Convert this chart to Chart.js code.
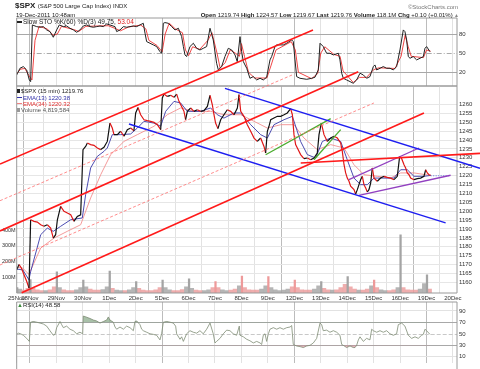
<!DOCTYPE html>
<html lang="en">
<head>
<meta charset="UTF-8">
<title>$SPX 15 min - StockCharts</title>
<script src="https://cdn.jsdelivr.net/npm/chart.js"></script>
<style>
  html, body { margin: 0; padding: 0; background: #fff; overflow: hidden; }
  #wrap { position: relative; width: 480px; height: 369px; overflow: hidden; font-family: 'Liberation Sans', Arial, sans-serif; color: #222; }
  #wrap canvas { position: absolute; left: 0; top: 0; }
  .t { position: absolute; white-space: nowrap; font-size: 6px; line-height: 6px; }
  .ic { display: inline-block; width: 5px; height: 1px; vertical-align: middle; margin-right: 1px; }
</style>
</head>
<body>
<div id="wrap">
  <canvas id="sto" width="480" height="369"></canvas>
  <canvas id="main" width="480" height="369"></canvas>
  <canvas id="rsi" width="480" height="369"></canvas>
  <canvas id="lines" width="480" height="369"></canvas>

  <div class="t" style="left:15px;top:2px;font-size:8px;line-height:8px"><b>$SPX</b> <span style="font-size:6px">(S&amp;P 500 Large Cap Index) INDX</span></div>
  <div class="t" style="right:22px;top:3.5px;color:#777">&copy;StockCharts.com</div>
  <div class="t" style="left:16px;top:11.5px">19-Dec-2011 10:48am</div>
  <div class="t" style="right:21px;top:11.5px"><b>Open</b> 1219.74 <b>High</b> 1224.57 <b>Low</b> 1219.67 <b>Last</b> 1219.76 <b>Volume</b> 118.1M <b>Chg</b> +0.10 (+0.01%)<span style="color:#888;font-size:5px"> &#9650;</span></div>

  <div class="t" style="left:17px;top:19px;font-size:6.5px"><span class="ic" style="background:#222;height:2px"></span>Slow STO %K(60) %D(3) 49.75, <span style="color:#e02020">53.04</span></div>

  <div class="t" style="left:17px;top:88px"><span class="ic" style="background:#222;width:3px;height:4px"></span>$SPX (15 min) 1219.76</div>
  <div class="t" style="left:17px;top:94.5px;color:#3333aa"><span class="ic" style="background:#3333aa"></span>EMA(13) 1220.38</div>
  <div class="t" style="left:17px;top:100.5px;color:#e03030"><span class="ic" style="background:#f08080"></span>EMA(34) 1220.32</div>
  <div class="t" style="left:17px;top:106.5px;color:#555"><span class="ic" style="background:#999;width:3px;height:4px"></span>Volume 4,819,584</div>

  <div class="t" style="left:17px;top:302px"><span style="color:#3a8a3a;font-size:6px">&#9650;</span>RSI(14) 48.58</div>
</div>
<script>
// trading days, 15 min bars counted from the 25Nov open
const dayStarts = [0, 13, 39, 65, 91, 117, 143, 169, 195, 221, 247, 273, 299, 325, 351, 377, 403, 429];
const dayLabels = ['25Nov', '28Nov', '29Nov', '30Nov', '1Dec', '2Dec', '5Dec', '6Dec', '7Dec', '8Dec', '9Dec', '12Dec', '13Dec', '14Dec', '15Dec', '16Dec', '19Dec', '20Dec'];
const mondays = ['28Nov', '5Dec', '12Dec', '19Dec'];
const lastBar = 408;

const priceT = [0, 2.3, 4.6, 7.2, 9.8, 12.1, 13.7, 17, 20.3, 23.6, 26.8, 30.1, 33.4, 36, 38.3, 40, 43.2, 46.5, 49.8, 53.1, 56.3, 59.6, 62.9,
  65.2, 67.8, 69.5, 72.7, 76, 79.3, 82.6, 85.8, 89.1, 91.7, 94, 95.7, 99, 102.2, 105.5, 108.8, 112.1, 115.3,
  117, 119.3, 121.9, 125.2, 128.5, 131.7, 135, 138.3, 141.6, 143.2, 144.8, 148.1, 151.4, 154.7, 157.3, 159.6, 162.9, 164.5, 166.1,
  167.8, 171.1, 174.3, 177.6, 180.9, 184.2, 187.5, 190.1, 192.4, 194, 195.6, 197.9, 200.6, 203.8, 207.1, 210.4, 213.7,
  217, 218.6, 220.3, 223.5, 226.8, 230.1, 233.4, 236.6, 239.9, 243.2, 244.8, 246.5, 248.1, 249.8, 253, 256.3, 259.6, 262.9, 266.1, 269.4, 271.1,
  272.7, 274.3, 276, 279.2, 282.5, 285.8, 289.1, 292.4, 295.6, 297.3, 299.6, 302.2, 305.5, 308.8, 312, 315.3, 318.6, 320.2, 321.9, 323.5,
  325.1, 326.8, 328.4, 331.7, 333.3, 335, 336.6, 338.2, 339.9, 341.5, 343.2, 344.8, 346.4, 348.1, 349.7, 351.4, 354.6, 357.9, 361.2, 364.5,
  367.7, 371, 374.3, 376.6, 378.6, 380.9, 382.5, 384.1, 385.8, 387.4, 390.7, 394, 397.2, 400.5, 402.2, 403.8, 405.5, 407.1];
const priceClose = [1167.1, 1170.0, 1168.1, 1164.3, 1160.6, 1156.8, 1195.2, 1194.3, 1193.9, 1192.4, 1191.5, 1192.4, 1190.5, 1184.9, 1186.8, 1195.2, 1202.7, 1199.9, 1199.0, 1198.0, 1194.3, 1197.1, 1198.0,
  1234.6, 1236.4, 1238.3, 1237.4, 1237.0, 1235.5, 1234.6, 1235.9, 1239.2, 1249.5, 1246.7, 1243.0, 1243.0, 1244.9, 1242.1, 1245.8, 1246.7, 1245.2,
  1255.2, 1258.3, 1254.2, 1251.4, 1250.9, 1250.5, 1249.9, 1248.6, 1245.8, 1263.6, 1265.8, 1264.5, 1265.1, 1264.0, 1265.8, 1261.7, 1258.0, 1256.1, 1251.4,
  1256.1, 1258.0, 1256.1, 1257.0, 1256.1, 1256.5, 1258.9, 1265.1, 1259.8, 1254.2, 1249.5, 1246.4, 1251.4, 1254.2, 1257.0, 1256.1, 1254.2,
  1258.0, 1265.5, 1256.1, 1253.3, 1248.6, 1244.9, 1241.1, 1239.2, 1241.1, 1236.4, 1232.7, 1244.9, 1247.7, 1251.4, 1252.4, 1253.3, 1253.3, 1254.2, 1255.2, 1257.6, 1254.2,
  1243.0, 1237.4, 1235.5, 1231.8, 1229.5, 1229.9, 1228.9, 1229.9, 1232.7, 1243.0, 1249.5, 1243.0, 1239.2, 1241.1, 1242.1, 1241.1, 1238.3, 1233.6, 1226.1, 1221.5,
  1218.6, 1216.8, 1214.0, 1212.1, 1209.7, 1212.1, 1214.9, 1217.7, 1219.6, 1214.9, 1213.0, 1210.8, 1212.1, 1215.8, 1224.3, 1218.6, 1216.8, 1218.6, 1219.6, 1219.0,
  1218.6, 1217.7, 1219.6, 1230.8, 1229.5, 1226.1, 1224.3, 1221.5, 1220.5, 1218.6, 1217.7, 1218.3, 1218.6, 1219.6, 1223.3, 1221.5, 1220.5, 1220.1];

const ema13T = [0, 6, 12, 13.7, 23.6, 30.1, 36, 43.2, 53.1, 64.5, 67.8, 72.7, 79.3, 85.8, 89.1, 94, 102.2, 112.1, 118.6, 125.2,
  135, 141.6, 146.5, 154.7, 161.2, 167.8, 180.9, 190.7, 197.3, 203.8, 213.7, 220.3, 230.1, 239.9, 246.5,
  253, 262.9, 271.1, 279.2, 285.8, 294, 300.6, 308.8, 318.6, 325.1, 331.7, 338.2, 344.8, 351.4, 361.2, 371, 377.6, 384.1, 390.7, 400.5, 407.1];
const ema13 = [1167.5, 1167.0, 1161.5, 1166.0, 1186.8, 1190.5, 1188.7, 1191.5, 1195.2, 1196.2, 1209.3, 1224.3, 1230.8, 1233.6, 1235.5, 1243.0, 1243.0, 1243.4, 1246.7, 1250.5,
  1249.5, 1247.7, 1256.1, 1261.7, 1260.8, 1256.1, 1256.1, 1258.0, 1254.2, 1252.3, 1255.2, 1255.2, 1248.6, 1243.0, 1241.1,
  1248.6, 1251.4, 1253.3, 1239.2, 1231.8, 1229.9, 1239.2, 1241.1, 1239.2, 1228.9, 1218.6, 1214.9, 1214.9, 1218.6, 1218.6, 1218.6, 1223.3, 1223.3, 1219.6, 1219.6, 1220.1];

const ema34T = [0, 6, 12, 23.6, 36.7, 49.8, 62.9, 72.7, 82.6, 92.4, 105.5, 118.6, 135, 148.1, 161.2, 174.3, 190.7, 203.8, 213.7, 220.3,
  233.4, 246.5, 259.6, 272.7, 282.5, 295.6, 308.8, 321.9, 331.7, 341.5, 354.6, 367.7, 377.6, 390.7, 407.1];
const ema34 = [1168.5, 1168.0, 1164.5, 1179.3, 1184.9, 1188.7, 1192.4, 1207.4, 1220.5, 1231.8, 1239.2, 1243.0, 1247.7, 1254.2, 1258.0, 1256.1, 1256.1, 1254.2, 1254.2, 1254.2,
  1250.5, 1246.7, 1248.6, 1248.6, 1241.1, 1234.6, 1237.4, 1235.5, 1226.1, 1220.5, 1219.6, 1218.6, 1221.5, 1221.5, 1220.1];

// volume in millions: opening bar of each day, then the rest of the session
const volOpen = [35, 85, 135, 83, 140, 72, 83, 90, 72, 108, 104, 83, 72, 104, 83, 370, 115];
const openUp = [true, true, true, true, true, true, true, true, false, false, false, false, true, true, false, true, true];
const volBody = [[25, 18, 30], [30, 20, 15, 15, 20, 40], [35, 20, 15, 15, 20, 35], [40, 25, 18, 18, 22, 40], [30, 18, 15, 15, 20, 35],
  [30, 18, 15, 15, 20, 35], [35, 20, 15, 15, 22, 40], [30, 18, 15, 15, 20, 35], [35, 20, 15, 18, 25, 45], [35, 20, 18, 18, 25, 45],
  [35, 20, 15, 18, 25, 40], [35, 20, 18, 18, 25, 45], [30, 20, 18, 20, 35, 55], [40, 25, 18, 18, 25, 45], [35, 20, 15, 15, 20, 35],
  [35, 20, 18, 18, 25, 60], [25]];

const stoT = [0, 3.2, 6.5, 9.8, 12.4, 13.7, 15.4, 19.6, 22.9, 26.2, 29.5, 32.7, 36, 39.3, 41.9, 45.9, 49.1, 52.4, 55.7, 59,
  62.2, 65.5, 68.8, 72.1, 75.4, 78.6, 81.9, 85.2, 88.5, 96.7, 98.3, 101.6, 104.9, 108.1, 111.4, 114.7, 118, 121.2, 124.5, 126.2,
  127.8, 131.1, 134.4, 137.6, 140.9, 142.5, 144.2, 145.8, 149.1, 152.4, 155.7, 159, 162.2, 163.9, 165.5, 167.1, 170.4, 173.7, 177, 180.2,
  183.5, 186.8, 190.1, 193.3, 196.6, 198.3, 201.5, 204.8, 208.1, 211.4, 214.7, 216.9, 219.6, 221.2, 222.9, 226.2, 229.4, 232.7, 236, 239.3,
  242.5, 245.8, 249.1, 250.7, 254, 255.7, 262.2, 265.5, 270.4, 272, 273.7, 275.3, 278.6, 285.2, 290.1, 293.3, 296.6, 298.3, 301.5, 304.8,
  308.1, 311.4, 316.3, 317.9, 319.6, 321.2, 324.5, 327.8, 331, 334.3, 337.6, 340.9, 344.1, 347.4, 350.7, 352.3, 354, 357.3, 360.5, 363.8,
  367.1, 370.4, 373.6, 376.9, 380.2, 381.8, 383.5, 385.1, 386.8, 390, 393.3, 396.6, 399.9, 401.5, 403.1, 406.4];
const stoK = [15.8, 26.3, 28.9, 23.7, 8.0, 5.4, 94.2, 91.6, 90.6, 91.6, 86.4, 83.8, 74.9, 86.4, 94.2, 91.6, 92.6, 89.0, 86.4, 82.7,
  86.4, 92.6, 94.2, 91.6, 90.6, 91.6, 92.6, 91.6, 95.8, 91.6, 83.8, 86.4, 91.6, 90.6, 91.6, 92.6, 91.6, 94.2, 96.8, 81.2,
  68.1, 65.5, 62.9, 60.3, 52.4, 49.8, 96.8, 97.9, 96.8, 91.6, 86.4, 89.0, 75.9, 60.3, 47.2, 44.6, 60.3, 65.5, 57.6, 55.0,
  57.6, 60.3, 89.0, 70.7, 34.1, 23.7, 28.9, 44.6, 57.6, 55.0, 47.2, 36.7, 75.9, 52.4, 36.7, 26.3, 10.6, 13.2, 8.0, 10.6,
  8.0, 12.2, 39.4, 44.6, 60.3, 62.9, 62.9, 65.5, 70.7, 68.1, 39.4, 13.2, 10.6, 9.0, 10.6, 12.2, 23.7, 65.5, 60.3, 49.8,
  49.8, 47.2, 49.8, 39.4, 18.5, 10.6, 8.0, 5.4, 2.8, 8.0, 18.5, 15.8, 10.6, 13.2, 28.9, 31.5, 23.7, 26.3, 28.9, 26.3,
  26.3, 23.7, 28.9, 55.0, 86.4, 83.8, 70.7, 44.6, 42.0, 44.6, 39.4, 42.0, 44.6, 57.6, 60.3, 52.4];
const stoDT = [0, 4, 8, 12, 15, 18, 22, 30, 36, 40, 44, 56, 61, 68, 90, 98, 102, 110, 122, 127, 130, 138, 143, 146, 150, 156, 163, 166, 169, 173,
  180, 188, 192, 197, 200, 205, 210, 215, 219, 221, 224, 228, 234, 246, 250, 255, 270, 274, 277, 290, 296, 299, 303, 312, 318, 321, 331, 337, 344, 351,
  356, 372, 378, 382, 385, 388, 400, 403, 407];
const stoD = [18, 25, 26, 15, 8, 70, 92, 88, 78, 80, 92, 87, 84, 92, 93, 88, 85, 91, 94, 88, 70, 62, 52, 80, 97, 88, 82, 55, 46, 60,
  56, 70, 82, 50, 27, 35, 55, 50, 45, 65, 45, 20, 11, 11, 30, 55, 68, 55, 20, 10, 18, 50, 60, 48, 45, 22, 4, 12, 12, 24,
  27, 26, 45, 78, 60, 45, 43, 55, 53];

const rsiT = [0, 1.6, 3.9, 6.5, 9.8, 12.4, 13.7, 16.4, 19.6, 22.9, 26.2, 29.5, 32.7, 36, 37.7, 39.3, 42.6, 44.2, 45.9, 49.1,
  52.4, 55.7, 59, 62.2, 64.9, 65.5, 68.1, 72.1, 75.4, 78.6, 81.9, 85.2, 88.5, 90.1, 91.7, 95, 96.7, 98.3, 101.6, 104.9,
  108.1, 111.4, 114.7, 116.3, 118, 121.2, 122.9, 124.5, 127.8, 131.1, 134.4, 137.6, 140.9, 142.5, 144.2, 147.5, 150.7, 154, 156.3, 157.3,
  160.6, 162.2, 163.9, 167.1, 170.4, 173.7, 177, 180.2, 183.5, 186.8, 190.1, 193.3, 195, 196.6, 199.9, 203.2, 206.5, 209.7, 213, 216.3,
  218.9, 219.6, 222.9, 226.2, 229.4, 232.7, 236, 239.3, 240.9, 242.5, 244.2, 245.8, 247.5, 249.1, 252.4, 255.7, 258.9, 262.2, 265.5, 268.8,
  270.4, 272, 275.3, 278.6, 281.9, 285.2, 288.4, 291.7, 295, 298.3, 299.9, 301.5, 304.8, 308.1, 311.4, 314.7, 317.9, 319.6, 321.2, 324.5,
  327.8, 331, 332.7, 334.3, 336, 337.6, 340.9, 344.1, 347.4, 349.1, 350.7, 354, 357.3, 360.5, 363.8, 367.1, 370.4, 373.6, 375.3, 378.6,
  381.8, 385.1, 388.4, 391.7, 394.9, 398.2, 399.9, 401.5, 403.1, 406.4];
const rsi = [49.2, 51.3, 50.2, 47.6, 42.2, 36.9, 70.5, 71.6, 70.5, 68.9, 67.3, 63.6, 55.6, 47.6, 49.2, 60.9, 71.6, 66.2, 60.9, 63.6,
  58.2, 55.6, 50.2, 52.9, 50.2, 81.2, 79.6, 76.9, 74.2, 72.6, 68.9, 71.6, 74.2, 79.6, 74.2, 70.5, 62.0, 58.2, 62.0, 58.2,
  63.6, 60.9, 55.6, 71.6, 72.6, 66.2, 58.2, 55.6, 52.9, 50.2, 49.2, 47.6, 39.6, 50.2, 70.5, 71.6, 70.5, 68.9, 63.6, 50.2,
  40.6, 44.9, 36.9, 50.2, 55.6, 52.9, 51.3, 55.6, 50.2, 58.2, 68.9, 50.2, 34.2, 36.9, 42.2, 50.2, 56.6, 55.6, 50.2, 47.6,
  63.6, 47.6, 44.9, 40.6, 38.0, 34.2, 36.9, 34.2, 31.6, 47.6, 50.2, 36.9, 50.2, 58.2, 60.9, 58.2, 60.9, 58.2, 60.9, 62.0,
  64.6, 31.6, 28.9, 27.8, 26.2, 28.9, 30.0, 34.2, 42.2, 68.9, 66.2, 55.6, 56.6, 52.9, 55.6, 52.9, 47.6, 31.6, 30.0, 26.2,
  28.9, 26.2, 26.2, 30.0, 39.6, 44.9, 36.9, 42.2, 39.6, 58.2, 55.6, 52.9, 55.6, 52.9, 55.6, 50.2, 47.6, 50.2, 66.2, 68.9,
  63.6, 47.6, 42.2, 44.9, 42.2, 47.6, 49.2, 58.2, 55.6, 49.2];

// drawn trend lines: [bar from, price from, bar to, price to]
const redSolid = [[-16.4, 1226.5, 291.4, 1301.8], [-16.4, 1188.9, 335.9, 1278.4], [4.9, 1154.2, 400.5, 1255.2], [279.3, 1227.1, 455.6, 1232.5]];
const redDashed = [[-16.4, 1205.9, 270.7, 1276.5], [-16.4, 1169.8, 351.3, 1260.8]];
const blueLines = [[204.8, 1269.0, 455.6, 1224.1], [110.4, 1249.0, 421.8, 1193.4]];
const greenLines = [[244.8, 1231.7, 308.8, 1252.0], [292.3, 1228.9, 318.6, 1245.8]];
const purpleLines = [[326.7, 1217.7, 395.6, 1235.5], [336.6, 1208.9, 426.7, 1220.2]];
const projection = [[407.1, 1219.9, 425.1, 1219.9]];

const priceTicks = [];
for (let p = 1160; p <= 1260; p += 5) priceTicks.push(p);

Chart.defaults.font.family = "'Liberation Sans', Arial, sans-serif";
Chart.defaults.font.size = 6;
Chart.defaults.color = '#333';
Chart.defaults.animation = false;
Chart.defaults.events = [];
Chart.defaults.plugins.legend.display = false;
Chart.defaults.plugins.tooltip.enabled = false;

const pts = (xs, ys) => xs.map((x, i) => ({ x, y: ys[i] }));

const frame = {
  id: 'frame',
  afterDraw(chart, args, opts) {
    const a = chart.chartArea, c = chart.ctx;
    c.save();
    c.strokeStyle = '#9a9a9a';
    c.lineWidth = 1;
    c.beginPath();
    c.moveTo(a.left, opts.noBottom ? chart.height : a.bottom);
    c.lineTo(a.left, a.top);
    c.lineTo(a.right, a.top);
    c.lineTo(a.right, opts.noBottom ? chart.height : a.bottom);
    if (!opts.noBottom) c.lineTo(a.left, a.bottom);
    c.stroke();
    c.restore();
  }
};
const refLines = {
  id: 'refLines',
  beforeDatasetsDraw(chart, args, opts) {
    const a = chart.chartArea, c = chart.ctx, y = chart.scales.y;
    (opts.lines || []).forEach(l => {
      const py = Math.round(y.getPixelForValue(l.v)) + 0.5;
      c.save();
      c.strokeStyle = l.color;
      c.lineWidth = 1;
      c.setLineDash(l.dash);
      c.beginPath();
      c.moveTo(a.left, py);
      c.lineTo(a.right, py);
      c.stroke();
      c.restore();
    });
  }
};

function timeAxis(labels) {
  return {
    type: 'linear', min: 0, max: 433, offset: false,
    afterBuildTicks: s => { s.ticks = dayStarts.map(v => ({ value: v })); },
    afterFit: s => { s.height = labels ? 10 : 0; },
    border: { display: false },
    grid: {
      drawTicks: false,
      color: c => (c.tick && mondays.includes(dayLabels[dayStarts.indexOf(c.tick.value)])) ? '#bcbcbc' : '#e2e2e2'
    },
    ticks: { display: labels, autoSkip: false, maxRotation: 0, padding: 2, callback: v => dayLabels[dayStarts.indexOf(v)] }
  };
}
function valueAxis(min, max, ticks, gridColor) {
  return {
    position: 'right', min, max,
    afterBuildTicks: s => { s.ticks = ticks.map(v => ({ value: v })); },
    afterFit: s => { s.width = 23; },
    border: { display: false },
    grid: { drawTicks: false, color: c => gridColor(c.tick ? c.tick.value : 0) },
    ticks: { padding: 2, autoSkip: false, callback: v => String(v) }
  };
}

// slow stochastic panel
new Chart(document.getElementById('sto'), {
  type: 'line',
  data: {
    datasets: [
      { data: pts(stoT, stoK), borderColor: '#222', borderWidth: 1, pointRadius: 0, order: 1 },
      { data: pts(stoDT, stoD), borderColor: '#ee3030', borderWidth: 0.9, pointRadius: 0, order: 2 }
    ]
  },
  options: {
    responsive: false, devicePixelRatio: 1,
    layout: { padding: { top: 18, left: 16.7, right: 0, bottom: 283 } },
    scales: {
      x: timeAxis(false),
      y: valueAxis(-1.5, 105.1, [20, 50, 80], v => v === 50 ? 'rgba(0,0,0,0)' : '#a8a8a8')
    },
    plugins: { refLines: { lines: [{ v: 50, color: '#aaa', dash: [5, 2, 1, 2] }] } }
  },
  plugins: [frame, refLines]
});

// volume bars built from the daily arrays
const priceAt = t => {
  let v = priceClose[0];
  priceT.forEach((x, i) => { if (x <= t) v = priceClose[i]; });
  return v;
};
const spikeData = volOpen.map((v, d) => ({ x: dayStarts[d] + 0.5, y: v }));
const bodyData = [];
volBody.forEach((vals, d) => {
  const s = dayStarts[d] + 1, e = Math.min(dayStarts[d + 1], lastBar);
  const w = (e - s) / vals.length;
  vals.forEach((v, k) => bodyData.push({ x: s + (k + 0.5) * w, y: v, up: priceAt(s + (k + 1) * w) >= priceAt(s + k * w) }));
});

// price panel
new Chart(document.getElementById('main'), {
  type: 'line',
  data: {
    datasets: [
      { type: 'bar', yAxisID: 'vol', data: bodyData, grouped: false, barThickness: 4,
        backgroundColor: bodyData.map(b => b.up ? 'rgba(168,168,168,0.85)' : 'rgba(236,160,160,0.85)'), order: 10 },
      { type: 'bar', yAxisID: 'vol', data: spikeData, grouped: false, barThickness: 1.6,
        backgroundColor: openUp.map(u => u ? '#a4a4a4' : '#ee9a9a'), order: 9 },
      { data: pts(ema34T, ema34), yAxisID: 'y', borderColor: '#f39090', borderWidth: 0.9, pointRadius: 0, order: 4 },
      { data: pts(ema13T, ema13), yAxisID: 'y', borderColor: '#3838a8', borderWidth: 0.9, pointRadius: 0, order: 3 },
      { data: pts(priceT, priceClose), yAxisID: 'y', borderWidth: 1.2, pointRadius: 0, order: 1,
        segment: { borderColor: c => c.p1.parsed.y < c.p0.parsed.y ? '#e01818' : '#111' } }
    ]
  },
  options: {
    responsive: false, devicePixelRatio: 1,
    layout: { padding: { top: 86, left: 0.7, right: 0, bottom: 66 } },
    scales: {
      x: timeAxis(true),
      y: valueAxis(1154.04, 1270.34, priceTicks, () => '#e6e6e6'),
      vol: {
        position: 'left', min: 0, max: 1318,
        afterBuildTicks: s => { s.ticks = [100, 200, 300, 400].map(v => ({ value: v })); },
        afterFit: s => { s.width = 16; },
        border: { display: false },
        grid: { drawOnChartArea: false, drawTicks: false },
        ticks: { padding: 1, font: { size: 5.5 }, callback: v => v + 'M' }
      }
    }
  },
  plugins: [frame]
});

// RSI panel
new Chart(document.getElementById('rsi'), {
  type: 'line',
  data: {
    datasets: [
      { data: pts(rsiT, rsi), borderColor: '#7d8c74', borderWidth: 0.8, pointRadius: 0,
        fill: { target: { value: 70 }, above: 'rgba(110,150,110,0.6)', below: 'rgba(0,0,0,0)' } },
      { data: pts(rsiT, rsi), borderWidth: 0, pointRadius: 0,
        fill: { target: { value: 30 }, above: 'rgba(0,0,0,0)', below: 'rgba(215,140,150,0.65)' } }
    ]
  },
  options: {
    responsive: false, devicePixelRatio: 1,
    layout: { padding: { top: 302, left: 16.7, right: 0, bottom: 0 } },
    scales: {
      x: timeAxis(false),
      y: valueAxis(-1.5, 105.7, [10, 30, 50, 70, 90], v => v === 50 ? 'rgba(0,0,0,0)' : (v === 30 || v === 70) ? '#a8a8a8' : '#e2e2e2')
    },
    plugins: { frame: { noBottom: true }, refLines: { lines: [{ v: 50, color: '#c8c8c8', dash: [4, 2] }] } }
  },
  plugins: [frame, refLines]
});

// annotation lines, on a scale that spans the whole picture so they can cross panels
const lineSet = (list, color, width, dash) => list.map(l => ({
  data: [{ x: l[0], y: l[1] }, { x: l[2], y: l[3] }],
  borderColor: color, borderWidth: width, borderDash: dash, pointRadius: 0
}));
new Chart(document.getElementById('lines'), {
  type: 'line',
  data: {
    datasets: [].concat(
      lineSet(redDashed, '#ff7070', 0.8, [3, 2]),
      lineSet(redSolid, '#ff1a1a', 1.6, []),
      lineSet(blueLines, '#1e1ef0', 1.4, []),
      lineSet(greenLines, '#4aac2e', 1.3, []),
      lineSet(purpleLines, '#9240c0', 1.3, []),
      lineSet(projection, '#3c5ee0', 0.8, [1, 1.5])
    )
  },
  options: {
    responsive: false, devicePixelRatio: 1,
    layout: { padding: 0 },
    scales: {
      x: { type: 'linear', min: -16.42, max: 455.6, display: false },
      y: { min: 1111.35, max: 1318.65, display: false }
    }
  }
});
</script>
</body>
</html>
